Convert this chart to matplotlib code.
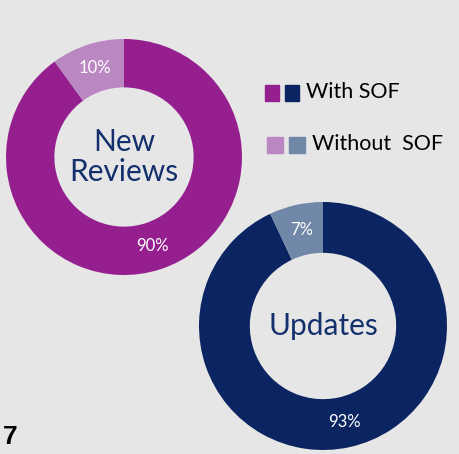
import matplotlib
matplotlib.use("Agg")
from matplotlib import pyplot as plt
from matplotlib.patches import Rectangle

# share of reviews with / without a summary of findings table
new_reviews = [90, 10]
updates = [93, 7]
series_names = ["With SOF", "Without  SOF"]
center_labels = ["New\nReviews", "Updates"]

purple = "#951f8f"
purple_light = "#bb87c3"
navy = "#0b2462"
navy_light = "#7187a8"
bg = "#e6e6e6"

W, H = 460, 454
fig = plt.figure(figsize=(W / 100, H / 100), dpi=100, facecolor=bg)
ax = fig.add_axes([0, 0, 1, 1])
ax.set_aspect("equal")


def donut(values, colors, cx, cy, r, label):
    ax.pie(values, colors=colors, startangle=90, counterclock=False,
           center=(cx, H - cy), radius=r, frame=True,
           wedgeprops=dict(width=r * 0.41, edgecolor="none"),
           autopct=lambda p: "{:.0f}%".format(p), pctdistance=0.79,
           textprops=dict(color="white", fontsize=12, family="Lato"))
    ax.text(cx, H - cy, label, ha="center", va="center", color="#13306c",
            fontsize=21.5, family="Lato", linespacing=1.1)


donut(new_reviews, [purple, purple_light], 124, 157, 118, center_labels[0])
donut(updates, [navy, navy_light], 323, 326, 124, center_labels[1])
ax.set_xlim(0, W)
ax.set_ylim(0, H)
ax.axis("off")

# legend drawn by hand
for row, (c1, c2, name) in enumerate([(purple, navy, series_names[0]),
                                      (purple_light, navy_light, series_names[1])]):
    y = H - (92.5 + row * 52.5)
    x0 = 265 + row * 2
    ax.add_patch(Rectangle((x0, y - 8), 14 + row * 2, 16, color=c1))
    ax.add_patch(Rectangle((x0 + 20 + row * 2, y - 8), 14 + row * 2, 16, color=c2))
    ax.text(x0 + 41 + row * 4, y + 1, name, ha="left", va="center", fontsize=15.5,
            family="Lato", color="black")

ax.text(3, H - 437, "7", ha="left", va="center", fontsize=19,
        fontweight="bold", family="Liberation Sans")

plt.savefig("out.png", dpi=100, facecolor=bg)
